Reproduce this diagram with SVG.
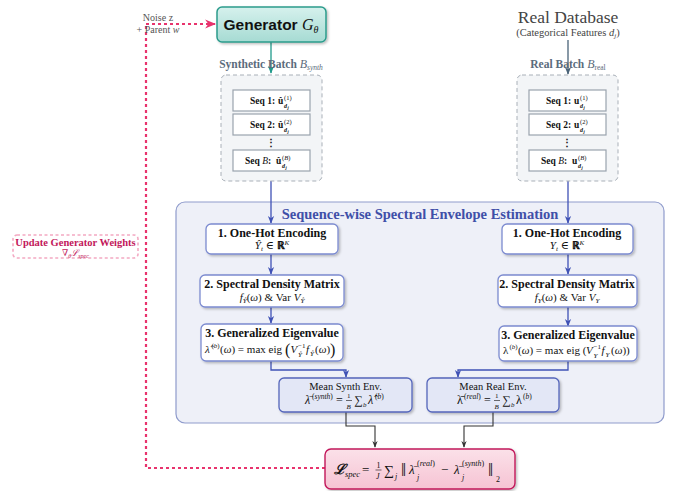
<svg xmlns="http://www.w3.org/2000/svg" width="673" height="491" viewBox="0 0 673 491">
<defs>
<style>
.serif{font-family:"Liberation Serif","DejaVu Serif",serif;}
.sans{font-family:"Liberation Sans","DejaVu Sans",sans-serif;}
.it{font-style:italic;}
.b{font-weight:bold;}
.step{fill:#fff;stroke:#7c8bd0;stroke-width:1.3;}
.mean{fill:#e3e7f6;stroke:#5566bb;stroke-width:1.3;}
.seqbox{fill:#fff;stroke:#9aa3ad;stroke-width:1.2;}
.batch{fill:#f3f5f7;stroke:#a9b0b8;stroke-width:1;stroke-dasharray:4 3;}
.lbl{font-size:12px;fill:#111;font-weight:bold;}
.m{font-size:11px;fill:#111;}
.s{font-size:7px;fill:#111;}
.seqt{font-size:9.5px;fill:#111;font-weight:bold;}
.blue{stroke:#3f51b5;stroke-width:1.3;fill:none;}
.blk{stroke:#333;stroke-width:1.1;fill:none;}
.pink{stroke:#e8336d;stroke-width:2.2;fill:none;stroke-dasharray:3 3;}
</style>
<marker id="ab" viewBox="0 0 10 10" refX="9" refY="5" markerWidth="6" markerHeight="6" orient="auto"><path d="M0,1 L10,5 L0,9 L3,5 z" fill="#3f51b5"/></marker>
<marker id="ak" viewBox="0 0 10 10" refX="9" refY="5" markerWidth="6" markerHeight="6" orient="auto"><path d="M0,1 L10,5 L0,9 L3,5 z" fill="#333"/></marker>
<marker id="at" viewBox="0 0 10 10" refX="9" refY="5" markerWidth="6" markerHeight="6" orient="auto"><path d="M0,1 L10,5 L0,9 L3,5 z" fill="#1f9a8a"/></marker>
<marker id="ag" viewBox="0 0 10 10" refX="9" refY="5" markerWidth="6" markerHeight="6" orient="auto"><path d="M0,1 L10,5 L0,9 L3,5 z" fill="#4a6378"/></marker>
<marker id="ap" viewBox="0 0 10 10" refX="9" refY="5" markerWidth="5" markerHeight="5" orient="auto"><path d="M0,1 L10,5 L0,9 L3,5 z" fill="#e8336d"/></marker>
<linearGradient id="gteal" x1="0" y1="0" x2="0" y2="1"><stop offset="0" stop-color="#d6f1ed"/><stop offset="1" stop-color="#a6dbd3"/></linearGradient>
<linearGradient id="gpink" x1="0" y1="0" x2="0" y2="1"><stop offset="0" stop-color="#fbe1e9"/><stop offset="1" stop-color="#f6c3d3"/></linearGradient>
<filter id="sh" x="-10%" y="-10%" width="130%" height="140%"><feDropShadow dx="1.5" dy="1.5" stdDeviation="1" flood-color="#000" flood-opacity="0.25"/></filter>
</defs>
<rect width="673" height="491" fill="#fff"/>

<g id="container">
<rect x="176" y="202" width="488" height="221" rx="9" fill="#eef0f8" stroke="#8f9bcc" stroke-width="1.2"/>
<text x="420" y="219" text-anchor="middle" class="serif b" font-size="14.5" fill="#3f4fa8">Sequence-wise Spectral Envelope Estimation</text>
</g>

<g id="connectors">
<line x1="271" y1="42" x2="271" y2="73" stroke="#1f9a8a" stroke-width="1.3" marker-end="url(#at)"/>
<line x1="568" y1="40" x2="568" y2="74" stroke="#4a6378" stroke-width="1.3" marker-end="url(#ag)"/>
<line x1="271" y1="181" x2="271" y2="223" class="blue" marker-end="url(#ab)"/>
<line x1="568" y1="181" x2="568" y2="223" class="blue" marker-end="url(#ab)"/>
<line x1="271" y1="254" x2="271" y2="274" class="blue" marker-end="url(#ab)"/>
<line x1="271" y1="307" x2="271" y2="323" class="blue" marker-end="url(#ab)"/>
<line x1="568" y1="254" x2="568" y2="274" class="blue" marker-end="url(#ab)"/>
<line x1="568" y1="307" x2="568" y2="326" class="blue" marker-end="url(#ab)"/>
<path d="M271,361 V370 H346 V377" class="blue" marker-end="url(#ab)"/>
<path d="M568,361 V370 H458 V377" class="blue" marker-end="url(#ab)"/>
<path d="M346,412 V426 H375 V447" class="blk" marker-end="url(#ak)"/>
<path d="M493,412 V426 H464 V447" class="blk" marker-end="url(#ak)"/>
<path d="M325,468 H146 V24" class="pink"/>
<path d="M146,24 H215" class="pink" marker-end="url(#ap)"/>
</g>

<g id="generator">
<rect x="217" y="7" width="109" height="35" rx="5" fill="url(#gteal)" stroke="#2b9c8c" stroke-width="1.5" filter="url(#sh)"/>
<text x="271" y="30" text-anchor="middle" font-size="15.5" fill="#111"><tspan class="sans b">Generator </tspan><tspan class="serif it" font-size="16">G</tspan><tspan class="serif it" font-size="10" dy="3">θ</tspan></text>
</g>

<g id="noise">
<text x="158" y="21" text-anchor="middle" class="serif" font-size="10" fill="#555">Noise z</text>
<text x="158" y="33" text-anchor="middle" class="serif" font-size="10" fill="#555">+ Parent <tspan class="it">w</tspan></text>
</g>

<g id="realdb">
<text x="568" y="23" text-anchor="middle" class="serif" font-size="17.5" fill="#444">Real Database</text>
<text x="568" y="36" text-anchor="middle" class="serif" font-size="10.5" fill="#444">(Categorical Features <tspan class="it">d</tspan><tspan class="it" font-size="7" dy="2">j</tspan><tspan dy="-2">)</tspan></text>
</g>

<g id="synth-batch">
<text x="271" y="68" text-anchor="middle" class="serif b" font-size="11.5" fill="#5b6b7c">Synthetic Batch <tspan class="it" font-weight="normal" font-size="12">B</tspan><tspan class="it" font-weight="normal" font-size="7.5" dy="2">synth</tspan></text>
<rect x="221" y="75" width="101" height="106" rx="5" class="batch"/>
<rect x="233" y="90" width="77" height="21" class="seqbox"/>
<rect x="233" y="114" width="77" height="21" class="seqbox"/>
<rect x="233" y="150" width="77" height="21" class="seqbox"/>
<text class="serif seqt"><tspan x="250" y="104">Seq 1:</tspan><tspan x="278" y="104">û</tspan><tspan x="284" y="99.5" font-size="6.5" font-weight="normal">(1)</tspan><tspan x="284" y="107.5" font-size="6" font-style="italic">d</tspan><tspan x="287.5" y="109" font-size="4.5" font-style="italic">j</tspan></text>
<text class="serif seqt"><tspan x="250" y="128">Seq 2:</tspan><tspan x="278" y="128">û</tspan><tspan x="284" y="123.5" font-size="6.5" font-weight="normal">(2)</tspan><tspan x="284" y="131.5" font-size="6" font-style="italic">d</tspan><tspan x="287.5" y="133" font-size="4.5" font-style="italic">j</tspan></text>
<text x="271" y="146" text-anchor="middle" class="serif" font-size="10" font-weight="bold" fill="#111">⋮</text>
<text class="serif seqt"><tspan x="245" y="164">Seq </tspan><tspan font-style="italic" font-weight="normal">B</tspan><tspan>:</tspan><tspan x="276" y="164">û</tspan><tspan x="282" y="159.5" font-size="6.5" font-weight="normal">(<tspan font-style="italic">B</tspan>)</tspan><tspan x="282" y="167.5" font-size="6" font-style="italic">d</tspan><tspan x="285.5" y="169" font-size="4.5" font-style="italic">j</tspan></text>
</g>

<g id="real-batch">
<text x="568" y="68" text-anchor="middle" class="serif b" font-size="11.5" fill="#5b6b7c">Real Batch <tspan class="it" font-weight="normal" font-size="12">B</tspan><tspan font-weight="normal" font-size="7.5" dy="2">real</tspan></text>
<rect x="517" y="75" width="101" height="106" rx="5" class="batch"/>
<rect x="529" y="90" width="77" height="21" class="seqbox"/>
<rect x="529" y="114" width="77" height="21" class="seqbox"/>
<rect x="529" y="150" width="77" height="21" class="seqbox"/>
<text class="serif seqt"><tspan x="546" y="104">Seq 1:</tspan><tspan x="574" y="104">u</tspan><tspan x="580" y="99.5" font-size="6.5" font-weight="normal">(1)</tspan><tspan x="580" y="107.5" font-size="6" font-style="italic">d</tspan><tspan x="583.5" y="109" font-size="4.5" font-style="italic">j</tspan></text>
<text class="serif seqt"><tspan x="546" y="128">Seq 2:</tspan><tspan x="574" y="128">u</tspan><tspan x="580" y="123.5" font-size="6.5" font-weight="normal">(2)</tspan><tspan x="580" y="131.5" font-size="6" font-style="italic">d</tspan><tspan x="583.5" y="133" font-size="4.5" font-style="italic">j</tspan></text>
<text x="567" y="146" text-anchor="middle" class="serif" font-size="10" font-weight="bold" fill="#111">⋮</text>
<text class="serif seqt"><tspan x="541" y="164">Seq </tspan><tspan font-style="italic" font-weight="normal">B</tspan><tspan>:</tspan><tspan x="572" y="164">u</tspan><tspan x="578" y="159.5" font-size="6.5" font-weight="normal">(<tspan font-style="italic">B</tspan>)</tspan><tspan x="578" y="167.5" font-size="6" font-style="italic">d</tspan><tspan x="581.5" y="169" font-size="4.5" font-style="italic">j</tspan></text>
</g>

<g id="s-onehot">
<rect x="206" y="224" width="132" height="30" rx="5" class="step" filter="url(#sh)"/>
<text x="272" y="237" text-anchor="middle" class="serif lbl">1. One-Hot Encoding</text>
<text x="272" y="249" text-anchor="middle" class="serif m"><tspan class="it">Ŷ</tspan><tspan class="it" font-size="7" dy="2">t</tspan><tspan dy="-2"> ∈ </tspan><tspan class="b">ℝ</tspan><tspan class="it" font-size="7" dy="-4.5">K</tspan></text>
</g>
<g id="s-spectral">
<rect x="200" y="275" width="144" height="32" rx="5" class="step" filter="url(#sh)"/>
<text x="272" y="288" text-anchor="middle" class="serif lbl">2. Spectral Density Matrix</text>
<text x="272" y="301" text-anchor="middle" class="serif m"><tspan class="it">f</tspan><tspan class="it" font-size="7" dy="2">Ŷ</tspan><tspan dy="-2">(</tspan><tspan class="it">ω</tspan>) &amp; Var <tspan class="it">V</tspan><tspan class="it" font-size="7" dy="2">Ŷ</tspan></text>
</g>
<g id="s-eigen">
<rect x="201" y="324" width="142" height="37" rx="5" class="step" filter="url(#sh)"/>
<text x="272" y="337" text-anchor="middle" class="serif lbl">3. Generalized Eigenvalue</text>
<text class="serif m"><tspan x="205" y="353" class="it">λ̂</tspan><tspan x="211.5" y="347.5" class="s">(<tspan class="it">b</tspan>)</tspan><tspan x="220" y="353">(<tspan class="it">ω</tspan>) = max eig</tspan><tspan x="285" y="355" font-size="16">(</tspan><tspan x="290.5" y="353" class="it">V</tspan><tspan x="298" y="347.5" class="s">−1</tspan><tspan x="298" y="356.5" class="s it">Ŷ</tspan><tspan x="306" y="353" class="it">f</tspan><tspan x="310" y="355.5" class="s it">Ŷ</tspan><tspan x="315" y="353">(<tspan class="it">ω</tspan>)</tspan><tspan x="330" y="355" font-size="16">)</tspan></text>
</g>
<g id="s-mean">
<rect x="279" y="378" width="133" height="34" rx="5" class="mean" filter="url(#sh)"/>
<text x="345.5" y="390" text-anchor="middle" class="serif" font-size="10.5" fill="#111">Mean Synth Env.</text>
<text class="serif" font-size="12" fill="#111"><tspan x="305" y="404" class="it">λ̄</tspan><tspan x="312" y="398.5" font-size="7.5">(<tspan class="it">synth</tspan>)</tspan><tspan x="333" y="404"> = </tspan><tspan x="347" y="398" font-size="7">1</tspan><tspan x="346.5" y="408.5" font-size="7" class="it">B</tspan><tspan x="354" y="404">∑</tspan><tspan x="363" y="406.5" font-size="7" class="it">b</tspan><tspan x="368" y="404" class="it">λ̂</tspan><tspan x="375" y="398.5" font-size="7.5">(<tspan class="it">b</tspan>)</tspan></text>
<line x1="346" y1="400.5" x2="352" y2="400.5" stroke="#111" stroke-width="0.6"/>
</g>

<g id="r-onehot">
<rect x="502" y="224" width="131" height="30" rx="5" class="step" filter="url(#sh)"/>
<text x="567" y="237" text-anchor="middle" class="serif lbl">1. One-Hot Encoding</text>
<text x="567" y="249" text-anchor="middle" class="serif m"><tspan class="it">Y</tspan><tspan class="it" font-size="7" dy="2">t</tspan><tspan dy="-2"> ∈ </tspan><tspan class="b">ℝ</tspan><tspan class="it" font-size="7" dy="-4.5">K</tspan></text>
</g>
<g id="r-spectral">
<rect x="498" y="275" width="139" height="32" rx="5" class="step" filter="url(#sh)"/>
<text x="567" y="288" text-anchor="middle" class="serif lbl">2. Spectral Density Matrix</text>
<text x="567" y="301" text-anchor="middle" class="serif m"><tspan class="it">f</tspan><tspan class="it" font-size="7" dy="2">Y</tspan><tspan dy="-2">(</tspan><tspan class="it">ω</tspan>) &amp; Var <tspan class="it">V</tspan><tspan class="it" font-size="7" dy="2">Y</tspan></text>
</g>
<g id="r-eigen">
<rect x="499" y="326" width="138" height="35" rx="5" class="step" filter="url(#sh)"/>
<text x="568" y="339" text-anchor="middle" class="serif lbl">3. Generalized Eigenvalue</text>
<text class="serif m"><tspan x="503" y="354">λ</tspan><tspan x="509.5" y="348.5" class="s">(<tspan class="it">b</tspan>)</tspan><tspan x="518" y="354">(<tspan class="it">ω</tspan>) = max eig (</tspan><tspan x="586" y="354" class="it">V</tspan><tspan x="593.5" y="348.5" class="s">−1</tspan><tspan x="593.5" y="357.5" class="s it">Y</tspan><tspan x="601.5" y="354" class="it">f</tspan><tspan x="605.5" y="356.5" class="s it">Y</tspan><tspan x="611" y="354">(<tspan class="it">ω</tspan>))</tspan></text>
</g>
<g id="r-mean">
<rect x="427" y="378" width="132" height="34" rx="5" class="mean" filter="url(#sh)"/>
<text x="493" y="390" text-anchor="middle" class="serif" font-size="10.5" fill="#111">Mean Real Env.</text>
<text class="serif" font-size="12" fill="#111"><tspan x="457" y="404">λ̄</tspan><tspan x="464" y="398.5" font-size="7.5">(<tspan class="it">real</tspan>)</tspan><tspan x="481" y="404"> = </tspan><tspan x="495" y="398" font-size="7">1</tspan><tspan x="494.5" y="408.5" font-size="7" class="it">B</tspan><tspan x="502" y="404">∑</tspan><tspan x="511" y="406.5" font-size="7" class="it">b</tspan><tspan x="516" y="404">λ</tspan><tspan x="523" y="398.5" font-size="7.5">(<tspan class="it">b</tspan>)</tspan></text>
<line x1="494" y1="400.5" x2="500" y2="400.5" stroke="#111" stroke-width="0.6"/>
</g>

<g id="loss">
<rect x="325" y="449" width="190" height="40" rx="6" fill="url(#gpink)" stroke="#c2185b" stroke-width="1.4" filter="url(#sh)"/>
<text class="serif" font-size="13" fill="#111"><tspan x="334" y="474" class="it b" font-size="14">ℒ</tspan><tspan x="345" y="477" class="it" font-size="8.5">spec</tspan><tspan x="362" y="474">=</tspan><tspan x="376.5" y="467.5" font-size="8">1</tspan><tspan x="376" y="479" font-size="8" class="it">J</tspan><tspan x="384" y="475" font-size="14">∑</tspan><tspan x="395" y="479" class="it" font-size="8">j</tspan><tspan x="401" y="476" font-size="18">‖</tspan><tspan x="409" y="474" class="it">λ̄</tspan><tspan x="417" y="466" font-size="8">(<tspan class="it">real</tspan>)</tspan><tspan x="417" y="480" class="it" font-size="8">j</tspan><tspan x="441" y="474">−</tspan><tspan x="454" y="474" class="it">λ̄</tspan><tspan x="462" y="466" font-size="8">(<tspan class="it">synth</tspan>)</tspan><tspan x="462" y="480" class="it" font-size="8">j</tspan><tspan x="488" y="476" font-size="18">‖</tspan><tspan x="496" y="482" font-size="8">2</tspan></text>
<line x1="375.5" y1="470" x2="381.5" y2="470" stroke="#111" stroke-width="0.6"/>
</g>

<g id="update">
<rect x="13" y="235" width="125" height="23" rx="4" fill="#fff" stroke="#f3a9c2" stroke-width="1.6" stroke-dasharray="3 2.5"/>
<text x="75.5" y="246" text-anchor="middle" class="serif b" font-size="10.5" fill="#c2185b">Update Generator Weights</text>
<text x="75.5" y="256" text-anchor="middle" class="serif" font-size="9" fill="#c2185b">∇<tspan class="it" font-size="6" dy="2">θ</tspan><tspan class="it" dy="-2">ℒ</tspan><tspan class="it" font-size="6" dy="2">spec</tspan></text>
</g>
</svg>
